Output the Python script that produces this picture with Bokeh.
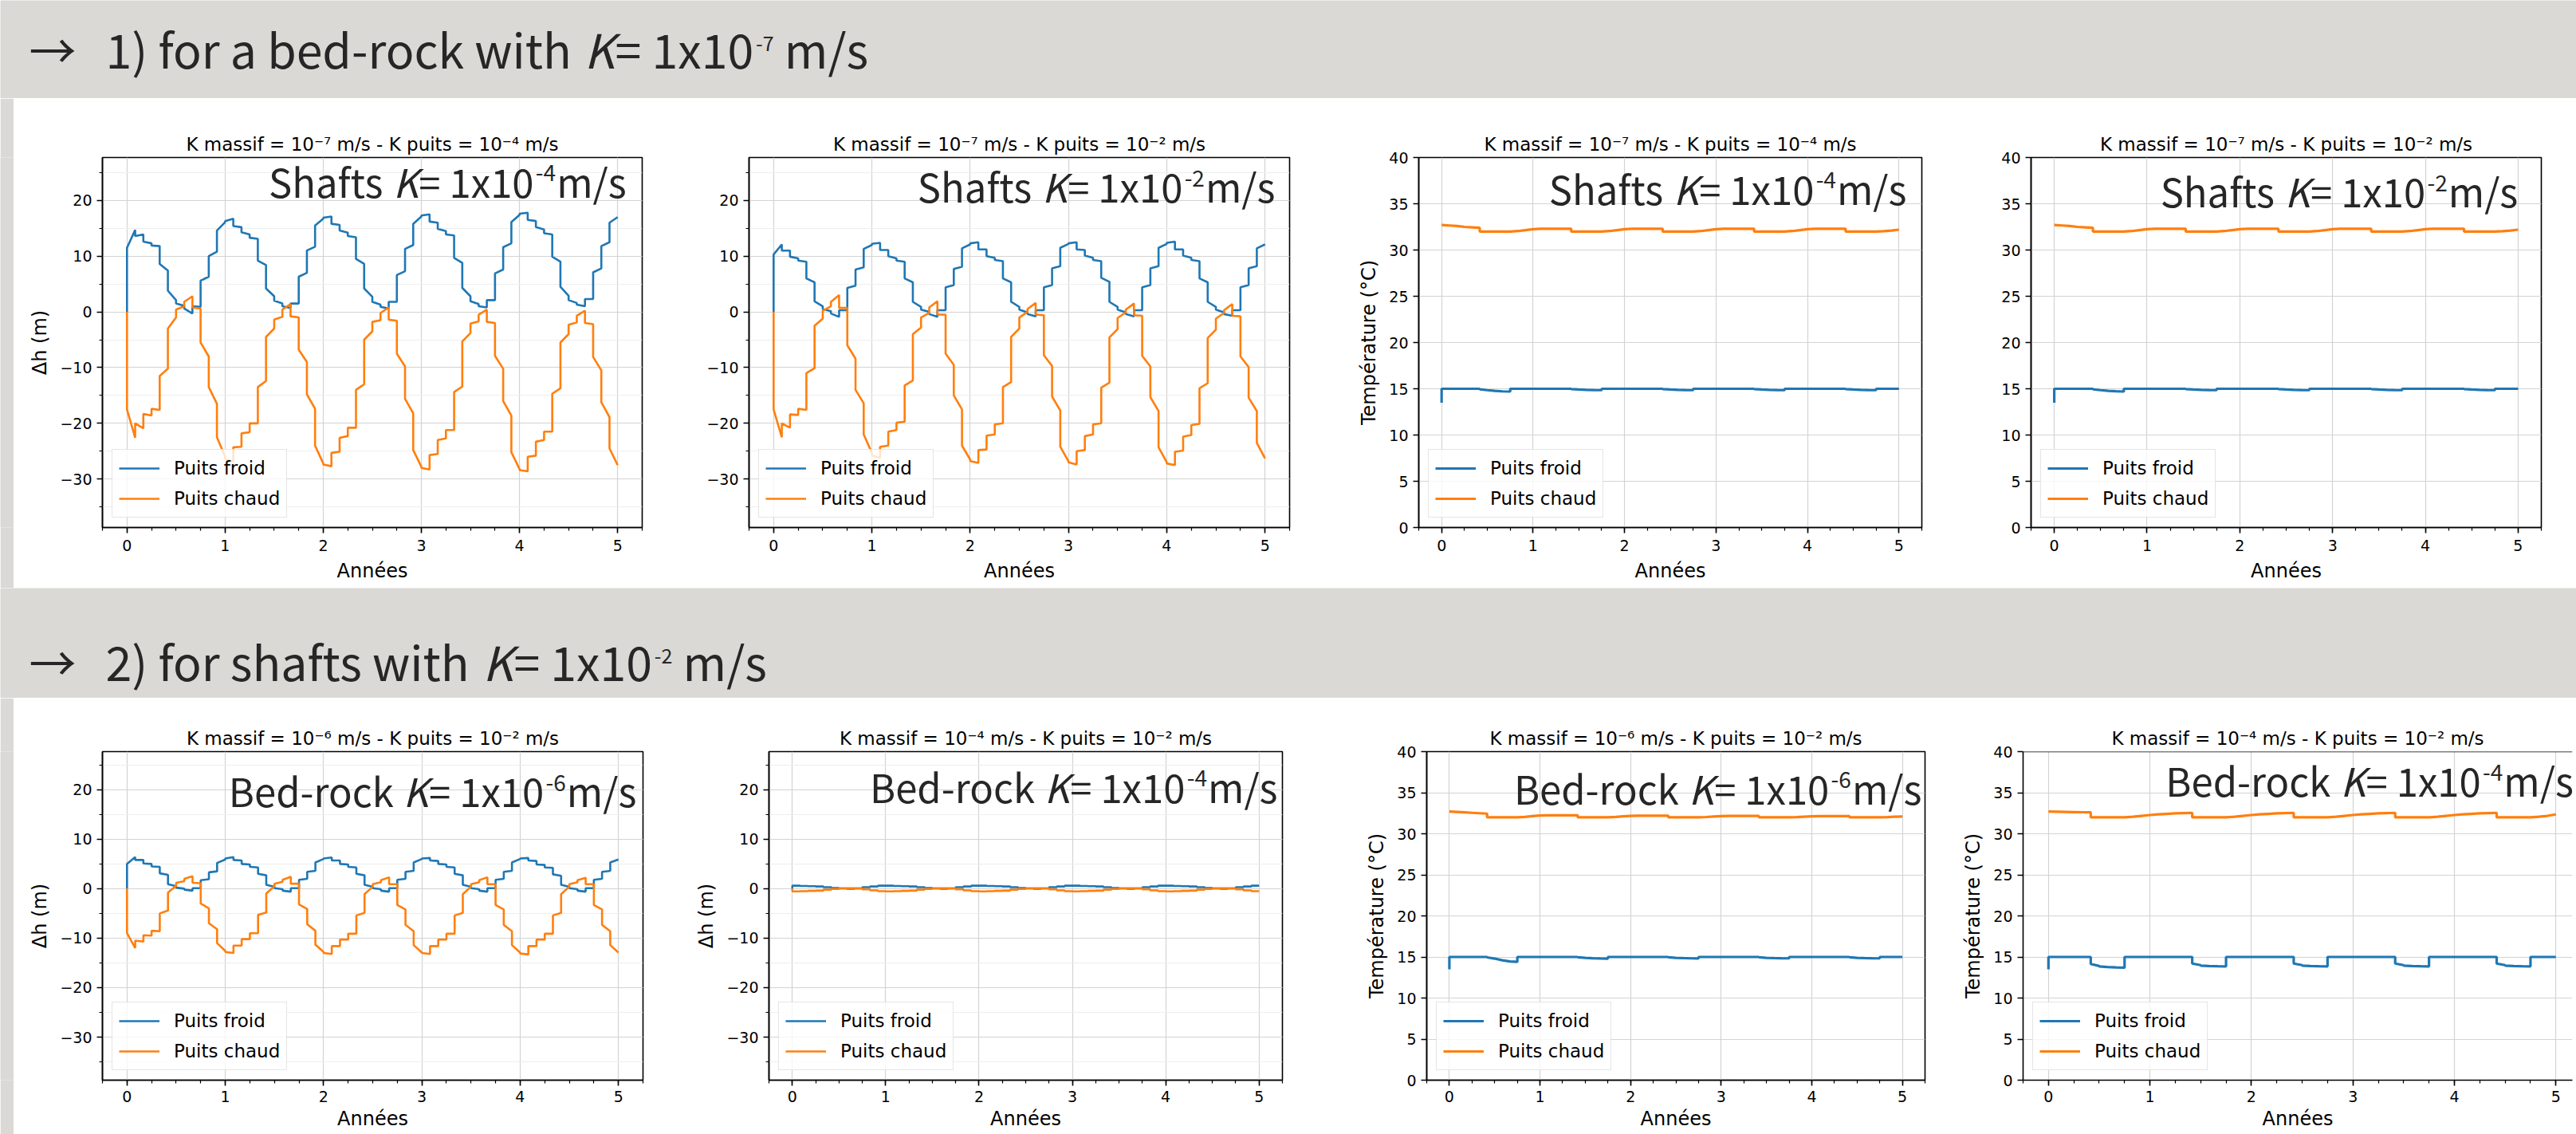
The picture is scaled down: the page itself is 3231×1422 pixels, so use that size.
from bokeh.plotting import figure
from bokeh.models import Range1d, Label, Legend, LegendItem, SingleIntervalTicker, Span
from bokeh.layouts import row, column
from bokeh.embed import file_html
from bokeh.resources import INLINE

# ------------------------------------------------------------------ data
# time grid: t=0, then start / end of every month over 5 years
mois = list(range(60))
annees = [0.0] + [v for m in mois for v in (m / 12, (m + 1) / 12)]

# Delta h (m) -- K massif 1e-7, K puits 1e-4
dh_froid_1 = [0,
    11.5, 14.7, 13.6, 13.9, 12.6, 12.3, 11.9, 11.8, 8.6, 7.4, 3.8, 2.1, 1.5, 1.1, 0.6, -0.3, 1.0, 0.9, 5.6, 6.3, 10.0, 10.8, 14.6, 16.1,
    16.3, 16.7, 15.4, 15.2, 14.3, 13.9, 13.3, 13.1, 9.2, 8.4, 4.2, 2.8, 2.0, 1.5, 1.0, 0.7, 1.5, 1.5, 6.3, 7.0, 11.0, 11.7, 15.5, 16.7,
    16.9, 17.1, 15.8, 15.6, 14.6, 14.2, 13.6, 13.4, 9.5, 8.6, 4.2, 2.7, 1.8, 1.3, 0.9, 0.6, 1.8, 1.8, 6.6, 7.3, 11.3, 12.0, 15.8, 17.1,
    17.3, 17.5, 16.2, 16.0, 14.9, 14.5, 13.9, 13.7, 9.7, 8.8, 4.3, 2.8, 1.9, 1.4, 1.0, 0.8, 2.1, 2.1, 6.9, 7.6, 11.6, 12.3, 16.1, 17.4,
    17.6, 17.8, 16.5, 16.3, 15.2, 14.8, 14.1, 13.9, 9.9, 9.0, 4.5, 2.9, 2.1, 1.6, 1.3, 1.0, 2.3, 2.3, 7.1, 7.8, 11.8, 12.5, 16.0, 17.0]
dh_chaud_1 = [0,
    -17.5, -22.6, -20.0, -20.9, -18.3, -18.6, -17.4, -17.6, -11.5, -10.2, -3.0, -1.0, 0.4, 1.0, 1.8, 2.8, 0.8, 0.6, -5.5, -8.0, -13.5, -16.5, -22.5, -26.0,
    -26.4, -26.9, -24.3, -24.2, -21.8, -21.6, -20.0, -20.0, -13.5, -12.4, -4.5, -3.0, -1.4, -0.9, 0.4, 1.4, -0.8, -1.0, -6.8, -9.0, -14.8, -17.4, -24.0, -27.2,
    -27.4, -27.7, -25.3, -25.1, -22.6, -22.3, -20.8, -20.8, -14.0, -13.0, -5.0, -3.5, -1.8, -1.5, -0.2, 0.8, -1.4, -1.6, -7.5, -9.8, -15.6, -18.2, -24.8, -27.8,
    -28.0, -28.3, -25.7, -25.5, -23.0, -22.7, -21.2, -21.2, -14.4, -13.4, -5.3, -3.8, -2.1, -1.7, -0.5, 0.4, -1.8, -2.0, -7.9, -10.2, -16.0, -18.6, -25.2, -28.2,
    -28.4, -28.6, -26.0, -25.8, -23.3, -23.0, -21.5, -21.5, -14.7, -13.7, -5.5, -4.0, -2.3, -1.9, -0.7, 0.2, -2.0, -2.2, -8.1, -10.5, -16.2, -18.9, -24.5, -27.5]

# Delta h (m) -- K massif 1e-7, K puits 1e-2
dh_froid_2 = [0,
    10.3, 12.1, 11.0, 11.0, 9.9, 9.6, 9.2, 9.0, 6.0, 5.3, 1.9, 1.0, 0.5, 0.1, -0.3, -0.9, 0.3, 0.3, 4.3, 4.7, 7.6, 8.0, 11.3, 12.0,
    12.2, 12.4, 11.1, 11.1, 10.0, 9.6, 9.2, 9.0, 6.0, 5.3, 1.8, 0.9, 0.4, 0.0, -0.4, -0.9, 0.3, 0.3, 4.4, 4.8, 7.7, 8.1, 11.4, 12.1,
    12.3, 12.5, 11.2, 11.2, 10.0, 9.7, 9.3, 9.1, 6.0, 5.3, 1.8, 0.9, 0.4, -0.1, -0.4, -0.8, 0.3, 0.3, 4.4, 4.8, 7.8, 8.2, 11.5, 12.2,
    12.3, 12.5, 11.2, 11.1, 10.1, 9.7, 9.3, 9.1, 6.1, 5.4, 1.8, 0.9, 0.4, -0.1, -0.4, -0.8, 0.3, 0.3, 4.4, 4.8, 7.8, 8.2, 11.5, 12.2,
    12.4, 12.6, 11.2, 11.2, 10.1, 9.7, 9.3, 9.1, 6.0, 5.3, 1.8, 0.9, 0.4, -0.1, -0.4, -0.7, 0.3, 0.3, 4.4, 4.8, 7.8, 8.2, 11.4, 12.1]
dh_chaud_2 = [0,
    -17.5, -22.5, -20.0, -20.8, -18.4, -18.5, -17.4, -17.6, -11.0, -10.1, -2.5, -1.2, 0.2, 1.0, 1.8, 3.0, 0.7, 0.7, -6.0, -8.4, -14.0, -16.4, -22.0, -25.3,
    -25.8, -26.2, -24.2, -24.0, -21.5, -21.2, -19.9, -19.7, -13.2, -12.3, -4.0, -2.8, -1.0, -0.2, 0.8, 1.9, -0.5, -0.5, -7.5, -9.5, -15.0, -17.5, -24.0, -26.5,
    -26.8, -27.1, -24.8, -24.7, -22.2, -22.0, -20.2, -20.0, -13.5, -12.6, -4.5, -3.0, -1.0, 0.0, 0.5, 1.6, -0.5, -0.6, -7.8, -9.7, -15.2, -17.7, -24.2, -26.8,
    -27.0, -27.4, -25.0, -24.8, -22.3, -22.0, -20.2, -20.0, -13.6, -12.7, -4.6, -3.1, -1.1, -0.1, 0.4, 1.5, -0.6, -0.7, -7.9, -9.8, -15.3, -17.8, -24.3, -27.0,
    -27.2, -27.5, -25.1, -24.9, -22.4, -22.1, -20.3, -20.1, -13.7, -12.8, -4.7, -3.2, -1.2, -0.2, 0.3, 1.4, -0.7, -0.8, -8.0, -9.9, -15.4, -17.8, -23.5, -26.3]

# Delta h (m) -- K massif 1e-6, K puits 1e-2
dh_froid_5 = [0,
    5.0, 6.4, 5.8, 5.8, 5.1, 5.0, 4.5, 4.4, 3.1, 2.8, 0.9, 0.5, 0.2, 0.0, -0.2, -0.4, 0.1, 0.1, 1.7, 1.9, 3.3, 3.5, 5.2, 5.9,
    6.1, 6.4, 5.8, 5.7, 5.0, 4.9, 4.4, 4.3, 3.0, 2.7, 0.8, 0.4, 0.1, -0.1, -0.4, -0.6, 0.1, 0.1, 1.8, 2.0, 3.4, 3.6, 5.3, 6.0,
    6.1, 6.3, 5.7, 5.7, 5.0, 4.9, 4.4, 4.3, 3.0, 2.7, 0.8, 0.4, 0.1, -0.1, -0.4, -0.6, 0.1, 0.1, 1.8, 2.0, 3.4, 3.6, 5.3, 6.0,
    6.1, 6.2, 5.7, 5.6, 5.0, 4.9, 4.4, 4.3, 3.0, 2.7, 0.8, 0.4, 0.1, -0.1, -0.4, -0.6, 0.1, 0.1, 1.8, 2.0, 3.4, 3.6, 5.3, 6.0,
    6.1, 6.2, 5.7, 5.6, 4.9, 4.8, 4.3, 4.2, 2.9, 2.6, 0.8, 0.4, 0.1, -0.1, -0.4, -0.6, 0.1, 0.1, 1.8, 2.0, 3.4, 3.6, 5.3, 5.9]
dh_chaud_5 = [0,
    -9.0, -12.0, -10.5, -10.7, -9.4, -9.5, -8.5, -8.6, -5.0, -4.4, -0.8, 0.6, 1.2, 1.5, 2.0, 2.5, 1.2, 1.1, -3.0, -4.0, -7.0, -8.2, -11.0, -12.6,
    -12.8, -13.0, -11.5, -11.5, -10.2, -10.2, -9.0, -9.0, -5.3, -4.8, -1.0, 0.5, 1.0, 1.4, 1.8, 2.4, 1.0, 1.0, -3.2, -4.1, -7.2, -8.5, -11.3, -12.8,
    -13.0, -13.2, -11.6, -11.6, -10.3, -10.3, -9.1, -9.1, -5.4, -4.9, -1.1, 0.4, 0.9, 1.3, 1.7, 2.3, 0.9, 0.9, -3.3, -4.2, -7.3, -8.6, -11.4, -12.9,
    -13.0, -13.2, -11.6, -11.6, -10.3, -10.3, -9.1, -9.1, -5.4, -4.9, -1.1, 0.4, 0.9, 1.3, 1.7, 2.3, 0.9, 0.9, -3.3, -4.2, -7.3, -8.6, -11.4, -12.9,
    -13.1, -13.3, -11.6, -11.6, -10.3, -10.3, -9.1, -9.1, -5.4, -4.9, -1.1, 0.4, 0.9, 1.3, 1.7, 2.2, 0.9, 0.9, -3.3, -4.2, -7.3, -8.6, -11.4, -12.9]

# Delta h (m) -- K massif 1e-4, K puits 1e-2
dh_froid_6 = [0,
    0.6, 0.6, 0.55, 0.55, 0.5, 0.5, 0.45, 0.45, 0.3, 0.3, 0.15, 0.15, 0.05, 0.05, 0.0, 0.0, 0.05, 0.05, 0.3, 0.3, 0.45, 0.45, 0.6, 0.6,
    0.6, 0.6, 0.55, 0.55, 0.5, 0.5, 0.45, 0.45, 0.3, 0.3, 0.15, 0.15, 0.05, 0.05, 0.0, 0.0, 0.05, 0.05, 0.3, 0.3, 0.45, 0.45, 0.6, 0.6,
    0.6, 0.6, 0.55, 0.55, 0.5, 0.5, 0.45, 0.45, 0.3, 0.3, 0.15, 0.15, 0.05, 0.05, 0.0, 0.0, 0.05, 0.05, 0.3, 0.3, 0.45, 0.45, 0.6, 0.6,
    0.6, 0.6, 0.55, 0.55, 0.5, 0.5, 0.45, 0.45, 0.3, 0.3, 0.15, 0.15, 0.05, 0.05, 0.0, 0.0, 0.05, 0.05, 0.3, 0.3, 0.45, 0.45, 0.6, 0.6,
    0.6, 0.6, 0.55, 0.55, 0.5, 0.5, 0.45, 0.45, 0.3, 0.3, 0.15, 0.15, 0.05, 0.05, 0.0, 0.0, 0.05, 0.05, 0.3, 0.3, 0.45, 0.45, 0.6, 0.6]
dh_chaud_6 = [0,
    -0.55, -0.55, -0.5, -0.5, -0.45, -0.45, -0.4, -0.4, -0.2, -0.2, -0.05, -0.05, 0.05, 0.05, 0.1, 0.1, 0.05, 0.05, -0.15, -0.15, -0.35, -0.35, -0.5, -0.5,
    -0.55, -0.55, -0.5, -0.5, -0.45, -0.45, -0.4, -0.4, -0.2, -0.2, -0.05, -0.05, 0.05, 0.05, 0.1, 0.1, 0.05, 0.05, -0.15, -0.15, -0.35, -0.35, -0.5, -0.5,
    -0.55, -0.55, -0.5, -0.5, -0.45, -0.45, -0.4, -0.4, -0.2, -0.2, -0.05, -0.05, 0.05, 0.05, 0.1, 0.1, 0.05, 0.05, -0.15, -0.15, -0.35, -0.35, -0.5, -0.5,
    -0.55, -0.55, -0.5, -0.5, -0.45, -0.45, -0.4, -0.4, -0.2, -0.2, -0.05, -0.05, 0.05, 0.05, 0.1, 0.1, 0.05, 0.05, -0.15, -0.15, -0.35, -0.35, -0.5, -0.5,
    -0.55, -0.55, -0.5, -0.5, -0.45, -0.45, -0.4, -0.4, -0.2, -0.2, -0.05, -0.05, 0.05, 0.05, 0.1, 0.1, 0.05, 0.05, -0.15, -0.15, -0.35, -0.35, -0.5, -0.5]

# Temperature (°C) -- K massif 1e-7, K puits 1e-4 / 1e-2
temp_froid_3 = [13.5,
    15.0, 15.0, 15.0, 15.0, 15.0, 15.0, 15.0, 15.0, 15.0, 15.0, 14.95, 14.85, 14.85, 14.78, 14.78, 14.72, 14.72, 14.7, 15.0, 15.0, 15.0, 15.0, 15.0, 15.0,
    15.0, 15.0, 15.0, 15.0, 15.0, 15.0, 15.0, 15.0, 15.0, 15.0, 14.97, 14.92, 14.92, 14.88, 14.88, 14.86, 14.86, 14.85, 15.0, 15.0, 15.0, 15.0, 15.0, 15.0,
    15.0, 15.0, 15.0, 15.0, 15.0, 15.0, 15.0, 15.0, 15.0, 15.0, 14.97, 14.92, 14.92, 14.88, 14.88, 14.86, 14.86, 14.85, 15.0, 15.0, 15.0, 15.0, 15.0, 15.0,
    15.0, 15.0, 15.0, 15.0, 15.0, 15.0, 15.0, 15.0, 15.0, 15.0, 14.97, 14.92, 14.92, 14.88, 14.88, 14.86, 14.86, 14.85, 15.0, 15.0, 15.0, 15.0, 15.0, 15.0,
    15.0, 15.0, 15.0, 15.0, 15.0, 15.0, 15.0, 15.0, 15.0, 15.0, 14.97, 14.92, 14.92, 14.88, 14.88, 14.86, 14.86, 14.85, 15.0, 15.0, 15.0, 15.0, 15.0, 15.0]
temp_chaud_3 = [32.7,
    32.7, 32.65, 32.65, 32.6, 32.6, 32.5, 32.5, 32.45, 32.45, 32.4, 32.0, 32.0, 32.0, 32.0, 32.0, 32.0, 32.0, 32.0, 32.0, 32.05, 32.05, 32.15, 32.15, 32.25,
    32.25, 32.3, 32.3, 32.3, 32.3, 32.3, 32.3, 32.3, 32.3, 32.3, 32.0, 32.0, 32.0, 32.0, 32.0, 32.0, 32.0, 32.0, 32.0, 32.05, 32.05, 32.15, 32.15, 32.25,
    32.25, 32.3, 32.3, 32.3, 32.3, 32.3, 32.3, 32.3, 32.3, 32.3, 32.0, 32.0, 32.0, 32.0, 32.0, 32.0, 32.0, 32.0, 32.0, 32.05, 32.05, 32.15, 32.15, 32.25,
    32.25, 32.3, 32.3, 32.3, 32.3, 32.3, 32.3, 32.3, 32.3, 32.3, 32.0, 32.0, 32.0, 32.0, 32.0, 32.0, 32.0, 32.0, 32.0, 32.05, 32.05, 32.15, 32.15, 32.25,
    32.25, 32.3, 32.3, 32.3, 32.3, 32.3, 32.3, 32.3, 32.3, 32.3, 32.0, 32.0, 32.0, 32.0, 32.0, 32.0, 32.0, 32.0, 32.0, 32.03, 32.03, 32.1, 32.1, 32.2]
temp_froid_4 = [13.5,
    15.0, 15.0, 15.0, 15.0, 15.0, 15.0, 15.0, 15.0, 15.0, 15.0, 14.95, 14.85, 14.85, 14.78, 14.78, 14.73, 14.73, 14.7, 15.0, 15.0, 15.0, 15.0, 15.0, 15.0,
    15.0, 15.0, 15.0, 15.0, 15.0, 15.0, 15.0, 15.0, 15.0, 15.0, 14.97, 14.92, 14.92, 14.88, 14.88, 14.86, 14.86, 14.85, 15.0, 15.0, 15.0, 15.0, 15.0, 15.0,
    15.0, 15.0, 15.0, 15.0, 15.0, 15.0, 15.0, 15.0, 15.0, 15.0, 14.97, 14.92, 14.92, 14.88, 14.88, 14.86, 14.86, 14.85, 15.0, 15.0, 15.0, 15.0, 15.0, 15.0,
    15.0, 15.0, 15.0, 15.0, 15.0, 15.0, 15.0, 15.0, 15.0, 15.0, 14.97, 14.92, 14.92, 14.88, 14.88, 14.86, 14.86, 14.85, 15.0, 15.0, 15.0, 15.0, 15.0, 15.0,
    15.0, 15.0, 15.0, 15.0, 15.0, 15.0, 15.0, 15.0, 15.0, 15.0, 14.97, 14.92, 14.92, 14.88, 14.88, 14.86, 14.86, 14.85, 15.0, 15.0, 15.0, 15.0, 15.0, 15.0]
temp_chaud_4 = [32.7,
    32.7, 32.65, 32.65, 32.6, 32.6, 32.5, 32.5, 32.45, 32.45, 32.4, 32.0, 32.0, 32.0, 32.0, 32.0, 32.0, 32.0, 32.0, 32.0, 32.05, 32.05, 32.15, 32.15, 32.25,
    32.25, 32.3, 32.3, 32.3, 32.3, 32.3, 32.3, 32.3, 32.3, 32.3, 32.0, 32.0, 32.0, 32.0, 32.0, 32.0, 32.0, 32.0, 32.0, 32.05, 32.05, 32.15, 32.15, 32.25,
    32.25, 32.3, 32.3, 32.3, 32.3, 32.3, 32.3, 32.3, 32.3, 32.3, 32.0, 32.0, 32.0, 32.0, 32.0, 32.0, 32.0, 32.0, 32.0, 32.05, 32.05, 32.15, 32.15, 32.25,
    32.25, 32.3, 32.3, 32.3, 32.3, 32.3, 32.3, 32.3, 32.3, 32.3, 32.0, 32.0, 32.0, 32.0, 32.0, 32.0, 32.0, 32.0, 32.0, 32.05, 32.05, 32.15, 32.15, 32.25,
    32.25, 32.3, 32.3, 32.3, 32.3, 32.3, 32.3, 32.3, 32.3, 32.3, 32.0, 32.0, 32.0, 32.0, 32.0, 32.0, 32.0, 32.0, 32.0, 32.03, 32.03, 32.1, 32.1, 32.2]

# Temperature (°C) -- K massif 1e-6, K puits 1e-2
temp_froid_7 = [13.5,
    15.0, 15.0, 15.0, 15.0, 15.0, 15.0, 15.0, 15.0, 15.0, 15.0, 14.95, 14.8, 14.8, 14.6, 14.6, 14.45, 14.45, 14.4, 15.0, 15.0, 15.0, 15.0, 15.0, 15.0,
    15.0, 15.0, 15.0, 15.0, 15.0, 15.0, 15.0, 15.0, 15.0, 15.0, 14.97, 14.9, 14.9, 14.85, 14.85, 14.82, 14.82, 14.8, 15.0, 15.0, 15.0, 15.0, 15.0, 15.0,
    15.0, 15.0, 15.0, 15.0, 15.0, 15.0, 15.0, 15.0, 15.0, 15.0, 14.97, 14.9, 14.9, 14.86, 14.86, 14.83, 14.83, 14.82, 15.0, 15.0, 15.0, 15.0, 15.0, 15.0,
    15.0, 15.0, 15.0, 15.0, 15.0, 15.0, 15.0, 15.0, 15.0, 15.0, 14.97, 14.9, 14.9, 14.86, 14.86, 14.84, 14.84, 14.83, 15.0, 15.0, 15.0, 15.0, 15.0, 15.0,
    15.0, 15.0, 15.0, 15.0, 15.0, 15.0, 15.0, 15.0, 15.0, 15.0, 14.97, 14.9, 14.9, 14.86, 14.86, 14.84, 14.84, 14.83, 15.0, 15.0, 15.0, 15.0, 15.0, 15.0]
temp_chaud_7 = [32.7,
    32.7, 32.65, 32.65, 32.6, 32.6, 32.55, 32.55, 32.5, 32.5, 32.45, 32.0, 32.0, 32.0, 32.0, 32.0, 32.0, 32.0, 32.0, 32.0, 32.05, 32.05, 32.15, 32.15, 32.22,
    32.22, 32.25, 32.25, 32.25, 32.25, 32.25, 32.25, 32.25, 32.25, 32.25, 32.0, 32.0, 32.0, 32.0, 32.0, 32.0, 32.0, 32.0, 32.0, 32.05, 32.05, 32.12, 32.12, 32.18,
    32.18, 32.2, 32.2, 32.2, 32.2, 32.2, 32.2, 32.2, 32.2, 32.2, 32.0, 32.0, 32.0, 32.0, 32.0, 32.0, 32.0, 32.0, 32.0, 32.04, 32.04, 32.1, 32.1, 32.15,
    32.15, 32.17, 32.17, 32.17, 32.17, 32.17, 32.17, 32.17, 32.17, 32.17, 32.0, 32.0, 32.0, 32.0, 32.0, 32.0, 32.0, 32.0, 32.0, 32.03, 32.03, 32.08, 32.08, 32.13,
    32.13, 32.15, 32.15, 32.15, 32.15, 32.15, 32.15, 32.15, 32.15, 32.15, 32.0, 32.0, 32.0, 32.0, 32.0, 32.0, 32.0, 32.0, 32.0, 32.03, 32.03, 32.07, 32.07, 32.1]

# Temperature (°C) -- K massif 1e-4, K puits 1e-2
temp_froid_8 = [13.5,
    15.0, 15.0, 15.0, 15.0, 15.0, 15.0, 15.0, 15.0, 15.0, 15.0, 14.15, 13.9, 13.85, 13.78, 13.78, 13.72, 13.72, 13.7, 15.0, 15.0, 15.0, 15.0, 15.0, 15.0,
    15.0, 15.0, 15.0, 15.0, 15.0, 15.0, 15.0, 15.0, 15.0, 15.0, 14.2, 14.0, 13.95, 13.9, 13.9, 13.87, 13.87, 13.85, 15.0, 15.0, 15.0, 15.0, 15.0, 15.0,
    15.0, 15.0, 15.0, 15.0, 15.0, 15.0, 15.0, 15.0, 15.0, 15.0, 14.2, 14.0, 13.95, 13.9, 13.9, 13.87, 13.87, 13.85, 15.0, 15.0, 15.0, 15.0, 15.0, 15.0,
    15.0, 15.0, 15.0, 15.0, 15.0, 15.0, 15.0, 15.0, 15.0, 15.0, 14.2, 14.0, 13.95, 13.9, 13.9, 13.87, 13.87, 13.85, 15.0, 15.0, 15.0, 15.0, 15.0, 15.0,
    15.0, 15.0, 15.0, 15.0, 15.0, 15.0, 15.0, 15.0, 15.0, 15.0, 14.2, 14.0, 13.95, 13.9, 13.9, 13.87, 13.87, 13.85, 15.0, 15.0, 15.0, 15.0, 15.0, 15.0]
temp_chaud_8 = [32.7,
    32.7, 32.68, 32.68, 32.66, 32.66, 32.64, 32.64, 32.62, 32.62, 32.6, 32.0, 32.0, 32.0, 32.0, 32.0, 32.0, 32.0, 32.0, 32.0, 32.08, 32.08, 32.18, 32.18, 32.28,
    32.28, 32.36, 32.36, 32.42, 32.42, 32.48, 32.48, 32.52, 32.52, 32.55, 32.0, 32.0, 32.0, 32.0, 32.0, 32.0, 32.0, 32.0, 32.0, 32.08, 32.08, 32.18, 32.18, 32.28,
    32.28, 32.36, 32.36, 32.42, 32.42, 32.48, 32.48, 32.52, 32.52, 32.55, 32.0, 32.0, 32.0, 32.0, 32.0, 32.0, 32.0, 32.0, 32.0, 32.08, 32.08, 32.18, 32.18, 32.28,
    32.28, 32.36, 32.36, 32.42, 32.42, 32.48, 32.48, 32.52, 32.52, 32.55, 32.0, 32.0, 32.0, 32.0, 32.0, 32.0, 32.0, 32.0, 32.0, 32.08, 32.08, 32.18, 32.18, 32.28,
    32.28, 32.36, 32.36, 32.42, 32.42, 32.48, 32.48, 32.52, 32.52, 32.55, 32.0, 32.0, 32.0, 32.0, 32.0, 32.0, 32.0, 32.0, 32.0, 32.08, 32.08, 32.18, 32.18, 32.35]

titres = [
    "K massif = 10⁻⁷ m/s - K puits = 10⁻⁴ m/s",
    "K massif = 10⁻⁷ m/s - K puits = 10⁻² m/s",
    "K massif = 10⁻⁷ m/s - K puits = 10⁻⁴ m/s",
    "K massif = 10⁻⁷ m/s - K puits = 10⁻² m/s",
    "K massif = 10⁻⁶ m/s - K puits = 10⁻² m/s",
    "K massif = 10⁻⁴ m/s - K puits = 10⁻² m/s",
    "K massif = 10⁻⁶ m/s - K puits = 10⁻² m/s",
    "K massif = 10⁻⁴ m/s - K puits = 10⁻² m/s",
]
annot_nom = ["Shafts", "Shafts", "Shafts", "Shafts", "Bed-rock", "Bed-rock", "Bed-rock", "Bed-rock"]
annot_exp = ["-4", "-2", "-4", "-2", "-6", "-4", "-6", "-4"]
bandeaux = [("1) for a bed-rock with", "-7"), ("2) for shafts with", "-2")]
legendes = ["Puits froid", "Puits chaud"]
dh_ticks = [-30, -20, -10]
dh_tick_labels = ["−30", "−20", "−10"]

# ------------------------------------------------------------------ style
GRAY = "#dad9d5"
BLUE = "#1f77b4"
ORANGE = "#ff7f0e"
TXT = "#262626"
MPL = "DejaVu Sans"
SLIDE = "Noto Sans CJK JP"
W = 3231
WSCALE = 1.12      # latin glyphs of the CJK font are wider than Source Sans
BASE_FIX = 0.37    # baseline correction (em) for the CJK font metrics

CW = {' ': 0.2, 'S': 0.53, 'h': 0.55, 'a': 0.505, 'f': 0.295, 't': 0.343, 's': 0.418, 'K': 0.573,
      '=': 0.497, '1': 0.497, 'x': 0.463, '0': 0.497, 'm': 0.834, '/': 0.334, '-': 0.311, 'B': 0.592,
      'e': 0.497, 'd': 0.554, 'r': 0.346, 'o': 0.54, 'c': 0.446, 'k': 0.501, 'w': 0.707, 'i': 0.246,
      'n': 0.55, ')': 0.303, '2': 0.497, '4': 0.497, '6': 0.497, '7': 0.497, 'b': 0.554}


def tw(s, size):
    return sum(CW.get(ch, 0.5) for ch in s) * size * WSCALE


def pieces(prefix, exp, size, sup, raise_, space_before_unit):
    # (text, font size, style, raise, advance)
    return [(prefix, size, "normal", 0, tw(prefix + " ", size)),
            ("K", size, "italic", 0, tw("K", size) + 0.02 * size),
            ("= 1x10", size, "normal", 0, tw("= 1x10", size) + 0.02 * size),
            (exp, sup, "normal", raise_, tw(exp, sup) + (tw(" ", size) if space_before_unit else 0.02 * size)),
            ("m/s", size, "normal", 0, tw("m/s", size))]


def blank(width, height):
    f = figure(width=width, height=height, x_axis_type=None, y_axis_type=None,
               output_backend="svg", toolbar_location=None, min_border=0)
    f.background_fill_color = GRAY
    f.border_fill_color = GRAY
    f.outline_line_color = None
    return f


def banner(h, baseline, prefix, exp):
    b = figure(width=W, height=h, x_range=Range1d(0, W), y_range=Range1d(h, 0),
               x_axis_type=None, y_axis_type=None, output_backend="svg",
               toolbar_location=None, min_border=0)
    b.background_fill_color = GRAY
    b.border_fill_color = GRAY
    b.outline_line_color = None
    size = 59
    b.add_layout(Label(x=36, y=baseline - BASE_FIX * size, text="→", text_font=SLIDE,
                       text_font_size=f"{size}px", text_color=TXT,
                       text_baseline="alphabetic", text_align="left"))
    x = 132
    for txt, sz, style, rz, adv in pieces(prefix, exp, size, 25, 19, True):
        b.add_layout(Label(x=x, y=baseline - rz - BASE_FIX * sz, text=txt, text_font=SLIDE,
                           text_font_size=f"{sz}px", text_font_style=style, text_color=TXT,
                           text_baseline="alphabetic", text_align="left"))
        x += adv
    return b


def panel(i, kind, froid, chaud, width, height, bl, br, bt, bb, ylabel, anchor,
          x_end=5.25, full_box=True, lab_standoff=8, axlab_standoff=8):
    yr = (-38.7, 27.7) if kind == "dh" else (0, 40)
    p = figure(width=width, height=height, x_range=Range1d(-0.25, x_end), y_range=Range1d(*yr),
               output_backend="svg", toolbar_location=None,
               min_border_left=bl, min_border_right=br, min_border_top=bt, min_border_bottom=bb)
    p.background_fill_color = "white"
    p.border_fill_color = "white"
    p.outline_line_color = "black" if full_box else None
    p.outline_line_width = 1.6
    p.title.text = titres[i]
    p.title.align = "center"
    p.title.text_font = MPL
    p.title.text_font_size = "23px"
    p.title.text_font_style = "normal"
    p.title.text_color = "black"
    p.title.standoff = 8

    p.xaxis.ticker = SingleIntervalTicker(interval=1, num_minor_ticks=4)
    if kind == "dh":
        p.yaxis.ticker = SingleIntervalTicker(interval=10, num_minor_ticks=2)
        p.yaxis.major_label_overrides = dict(zip(dh_ticks, dh_tick_labels))
        p.ygrid.minor_grid_line_color = "#eeeeee"
        p.ygrid.minor_grid_line_width = 1.2
    else:
        p.yaxis.ticker = SingleIntervalTicker(interval=5, num_minor_ticks=0)
    for ax in (p.xaxis[0], p.yaxis[0]):
        ax.axis_line_color = "black"
        ax.axis_line_width = 1.6
        ax.major_tick_in = 0
        ax.major_tick_out = 7
        ax.minor_tick_in = 0
        ax.minor_tick_out = 4
        ax.major_tick_line_width = 1.6
        ax.minor_tick_line_width = 1.2
        ax.major_label_text_font = MPL
        ax.major_label_text_font_size = "19px"
        ax.major_label_text_color = "black"
        ax.axis_label_text_font = MPL
        ax.axis_label_text_font_size = "24px"
        ax.axis_label_text_font_style = "normal"
        ax.axis_label_text_color = "black"
    p.yaxis.major_label_standoff = 6
    p.yaxis.axis_label_standoff = 8
    p.xaxis.major_label_standoff = lab_standoff
    p.xaxis.axis_label_standoff = axlab_standoff
    p.xaxis.axis_label = "Années"
    if ylabel:
        p.yaxis.axis_label = "Δh (m)" if kind == "dh" else "Température (°C)"
    p.xgrid.grid_line_color = "#d3d3d3"
    p.ygrid.grid_line_color = "#d3d3d3"
    p.xgrid.grid_line_width = 1.2
    p.ygrid.grid_line_width = 1.2

    lw = 2.6 if kind == "dh" else 3.2
    r1 = p.line(annees, froid, line_color=BLUE, line_width=lw)
    r2 = p.line(annees, chaud, line_color=ORANGE, line_width=lw)
    leg = Legend(items=[LegendItem(label=legendes[0], renderers=[r1]),
                        LegendItem(label=legendes[1], renderers=[r2])],
                 location="bottom_left", margin=12, padding=8, spacing=8,
                 glyph_width=51, glyph_height=30, label_height=30, label_standoff=18,
                 label_text_font=MPL, label_text_font_size="23px", label_text_color="black",
                 border_line_color="#cccccc", border_line_width=1.5,
                 background_fill_color="white", background_fill_alpha=0.8)
    p.add_layout(leg)
    if not full_box:
        p.add_layout(Span(location=yr[1], dimension="width", line_color="black", line_width=1.6))

    # slide annotation, right aligned at anchor
    ax_, ay_ = anchor
    seq = pieces(annot_nom[i], annot_exp[i], 49, 28, 17, False)
    off = -sum(s[4] for s in seq)
    for txt, size, style, rz, adv in seq:
        p.add_layout(Label(x=ax_, y=ay_, x_offset=off, y_offset=rz + BASE_FIX * size, text=txt,
                           text_font=SLIDE, text_font_size=f"{size}px", text_font_style=style,
                           text_color=TXT, text_baseline="alphabetic", text_align="left"))
        off += adv
    return p


# annotation anchors (right end, baseline) in data units
annot_pos = [(5.085, 21.0), (5.10, 20.05), (5.08, 35.2), (4.995, 34.9),
             (5.18, 17.0), (5.195, 17.9), (5.21, 33.9), (5.17, 34.85)]

H1, H2 = 614, 547
p1 = panel(0, "dh", dh_froid_1, dh_chaud_1, 807, H1, 111, 19, 74, 76, True, annot_pos[0])
p2 = panel(1, "dh", dh_froid_2, dh_chaud_2, 876, H1, 115, 83, 74, 76, False, annot_pos[1])
p3 = panel(2, "t", temp_froid_3, temp_chaud_3, 747, H1, 74, 37, 74, 76, True, annot_pos[2])
p4 = panel(3, "t", temp_froid_4, temp_chaud_4, 784, H1, 100, 44, 74, 76, False, annot_pos[3])

p5 = panel(4, "dh", dh_froid_5, dh_chaud_5, 852, H2, 111, 63, 67, 68, True, annot_pos[4],
           lab_standoff=6, axlab_standoff=4)
p6 = panel(5, "dh", dh_froid_6, dh_chaud_6, 841, H2, 92, 102, 67, 68, True, annot_pos[5],
           lab_standoff=6, axlab_standoff=4)
p7 = panel(6, "t", temp_froid_7, temp_chaud_7, 748, H2, 73, 44, 67, 68, True, annot_pos[6],
           lab_standoff=6, axlab_standoff=4)
p8 = panel(7, "t", temp_froid_8, temp_chaud_8, 773, H2, 73, 5, 67, 68, True, annot_pos[7],
           x_end=5.163, full_box=False, lab_standoff=6, axlab_standoff=4)

b1 = banner(123, 82, bandeaux[0][0], bandeaux[0][1])
b2 = banner(138, 113, bandeaux[1][0], bandeaux[1][1])

layout = column(b1, row(blank(17, H1), p1, p2, p3, p4, spacing=0), b2,
                row(blank(17, H2), p5, p6, p7, p8, spacing=0), spacing=0)

open("out.html", "w").write(file_html(layout, INLINE))
